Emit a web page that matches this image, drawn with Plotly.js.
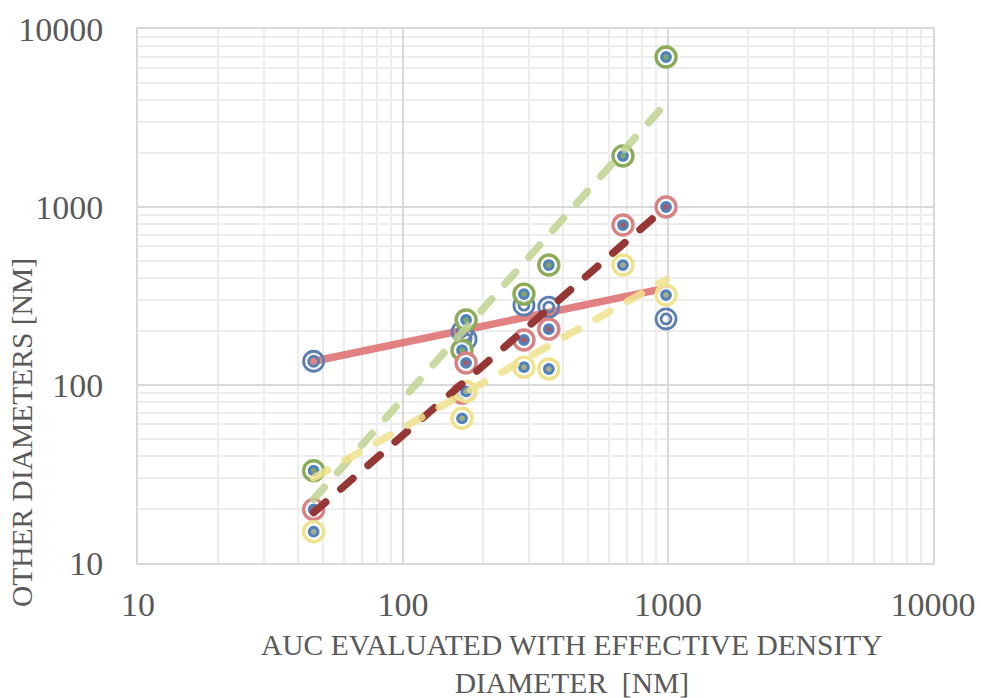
<!DOCTYPE html>
<html>
<head>
<meta charset="utf-8">
<script src="https://cdn.plot.ly/plotly-3.0.1.min.js"></script>
<style>
  html, body { margin: 0; padding: 0; background: #ffffff; }
  #chart { width: 981px; height: 698px; }
</style>
</head>
<body>
<div id="chart"></div>
<script>
// AUC diameter (effective density) on x, other diameters on y
const aucDiameter = [46, 167, 173, 286, 355, 676, 983];
const greenDiameter = [33, 157, 232, 324, 472, 1935, 6960];
const redDiameter = [20, 90, 133, 179, 206, 792, 1000];
const yellowDiameter = [15, 65, 92, 126, 123, 472, 320];

const blueAuc = [46, 167, 173, 286, 355, 983];
const blueDiameter = [136, 199, 181, 281, 274, 235];

// power-law trendline end points
const trendX = [46, 983];
const blueTrend = [136, 350];
const greenTrend = [22.8, 3840];
const redTrend = [19.2, 1000];
const yellowTrend = [30, 390];

const tickVals = [10, 100, 1000, 10000];
const tickText = ['10', '100', '1000', '10000'];

const FILL_BLUE = '#4F81BD';

function ringedSeries(x, y, ring, centre) {
  return [
    { x: x, y: y, type: 'scatter', mode: 'markers', hoverinfo: 'skip',
      marker: { symbol: 'circle', size: 20, color: 'rgba(255,255,255,0.6)', line: { color: ring, width: 3.4 } } },
    { x: x, y: y, type: 'scatter', mode: 'markers', hoverinfo: 'skip',
      marker: { symbol: 'circle', size: 13, color: FILL_BLUE, line: { color: '#ffffff', width: 1.2 } } },
    { x: x, y: y, type: 'scatter', mode: 'markers', hoverinfo: 'skip',
      marker: { symbol: 'circle', size: 5.5, color: centre, opacity: 0.8, line: { width: 0 } } }
  ];
}

function trendLine(y, color, dash) {
  return { x: trendX, y: y, type: 'scatter', mode: 'lines', hoverinfo: 'skip',
    line: { color: color, width: 7.5, dash: dash } };
}

const traces = [
  trendLine(blueTrend, 'rgba(222,112,112,0.88)', 'solid'),
  { x: blueAuc, y: blueDiameter, type: 'scatter', mode: 'markers', hoverinfo: 'skip',
    marker: { symbol: 'circle-open', size: 20, color: '#5B7FB0', line: { width: 2.8 } } },
  { x: blueAuc, y: blueDiameter, type: 'scatter', mode: 'markers', hoverinfo: 'skip',
    marker: { symbol: 'circle-open', size: 10, color: '#5B7FB0', line: { width: 2.8 } } },
  ...ringedSeries(aucDiameter, greenDiameter, '#8CAB58', '#8CB050'),
  ...ringedSeries(aucDiameter, redDiameter, '#D98284', '#C0504D'),
  ...ringedSeries(aucDiameter, yellowDiameter, '#EEE38C', '#BDBA7A'),
  trendLine(greenTrend, 'rgba(190,212,146,0.85)', '16px,20px'),
  trendLine(redTrend, 'rgba(149,55,53,1)', '16px,20px'),
  trendLine(yellowTrend, 'rgba(238,226,140,0.85)', '16px,20px')
];

const axisFont = { family: 'Liberation Serif, serif', size: 34, color: '#595959' };

const axisBase = {
  type: 'log',
  tickvals: tickVals,
  ticktext: tickText,
  tickfont: axisFont,
  ticks: '',
  showgrid: true,
  gridcolor: '#D9D9D9',
  gridwidth: 2,
  minor: { showgrid: true, gridcolor: '#EDEDED', gridwidth: 2, dtick: 'D1' },
  showline: true,
  linecolor: '#D9D9D9',
  linewidth: 2,
  mirror: true,
  zeroline: false
};

const layout = {
  width: 981,
  height: 698,
  margin: { l: 138, r: 48, t: 29, b: 135 },
  paper_bgcolor: '#ffffff',
  plot_bgcolor: '#ffffff',
  showlegend: false,
  xaxis: Object.assign({}, axisBase, { range: [1, 4], ticklabelstandoff: 10 }),
  yaxis: Object.assign({}, axisBase, { range: [1, 4], ticklabelstandoff: 26 }),
  annotations: [
    { xref: 'paper', yref: 'paper', x: 0.546, y: -0.12, yanchor: 'top', xanchor: 'center',
      showarrow: false, align: 'center',
      text: 'AUC EVALUATED WITH EFFECTIVE DENSITY<br>DIAMETER  [NM]',
      font: { family: 'Liberation Serif, serif', size: 29.5, color: '#595959' } },
    { xref: 'paper', yref: 'paper', x: -0.146, y: 0.245, xanchor: 'center', yanchor: 'middle',
      showarrow: false, textangle: -90,
      text: 'OTHER DIAMETERS [NM]',
      font: { family: 'Liberation Serif, serif', size: 29.5, color: '#595959' } }
  ]
};

Plotly.newPlot('chart', traces, layout, { staticPlot: true, displayModeBar: false }).then(function () {
  document.querySelectorAll('#chart path.js-line').forEach(function (p) {
    p.style.strokeLinecap = 'round';
  });
});
</script>
</body>
</html>
